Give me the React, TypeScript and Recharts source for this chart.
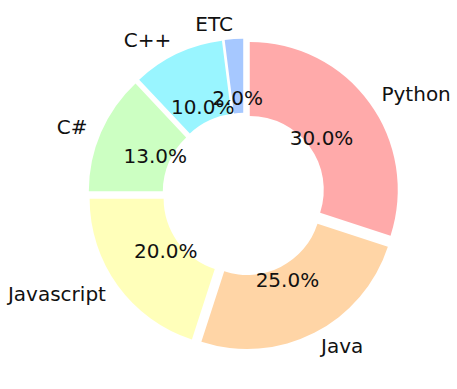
import React from "react";
import { PieChart, Pie, Cell, Sector } from "recharts";

const LANGUAGES = ["Python", "Java", "Javascript", "C#", "C++", "ETC"];
const SHARES = [30, 25, 20, 13, 10, 2];
const COLORS = ["#FFAAAA", "#FFD5A6", "#FFFFBA", "#CCFFC2", "#99F5FF", "#A6C8FF"];

const data = LANGUAGES.map((name, i) => ({ name, value: SHARES[i] }));

const RADIAN = Math.PI / 180;
const EXPLODE = 7.5;
const FONT = "'DejaVu Sans', sans-serif";

function ExplodedSector(props: any) {
  const { cx, cy, midAngle } = props;
  const dx = EXPLODE * Math.cos(-midAngle * RADIAN);
  const dy = EXPLODE * Math.sin(-midAngle * RADIAN);
  return <Sector {...props} cx={cx + dx} cy={cy + dy} />;
}

function renderLabel(props: any) {
  const { cx, cy, midAngle, outerRadius, percent, name } = props;
  const cos = Math.cos(-midAngle * RADIAN);
  const sin = Math.sin(-midAngle * RADIAN);
  const rOut = EXPLODE + outerRadius * 1.1;
  const rPct = EXPLODE + outerRadius * 0.6;
  return (
    <g>
      <text
        x={cx + rOut * cos}
        y={cy + rOut * sin}
        textAnchor={cos >= 0 ? "start" : "end"}
        dominantBaseline="central"
        fontSize={20}
        fontFamily={FONT}
        fill="#111"
      >
        {name}
      </text>
      <text
        x={cx + rPct * cos}
        y={cy + rPct * sin}
        textAnchor="middle"
        dominantBaseline="central"
        fontSize={20}
        fontFamily={FONT}
        fill="#111"
      >
        {(percent * 100).toFixed(1)}%
      </text>
    </g>
  );
}

export default function App() {
  return (
    <div style={{ position: "absolute", left: 0, top: 0, background: "#fff" }}>
      <PieChart width={457} height={389} margin={{ top: 0, right: 0, bottom: 0, left: 0 }}>
        <Pie
          data={data}
          dataKey="value"
          nameKey="name"
          cx={243.7}
          cy={194.3}
          outerRadius={148}
          innerRadius={74}
          startAngle={90}
          endAngle={-270}
          stroke="none"
          shape={ExplodedSector}
          activeShape={ExplodedSector}
          inactiveShape={ExplodedSector}
          label={renderLabel}
          labelLine={false}
          isAnimationActive={false}
        >
          {data.map((_, i) => (
            <Cell key={i} fill={COLORS[i]} />
          ))}
        </Pie>
      </PieChart>
    </div>
  );
}
